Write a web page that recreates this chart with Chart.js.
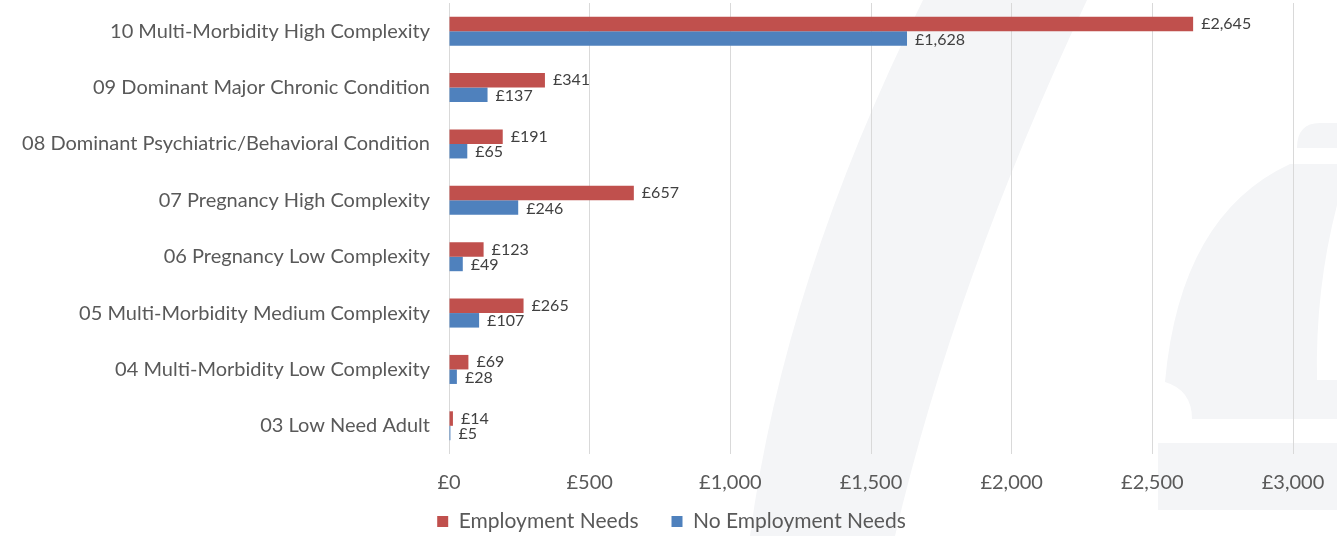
<!DOCTYPE html>
<html>
<head>
<meta charset="utf-8">
<script src="https://cdn.jsdelivr.net/npm/chart.js@4/dist/chart.umd.min.js"></script>
<style>
  html, body { margin: 0; padding: 0; background: #ffffff; }
  #wrap { position: relative; width: 1337px; height: 536px; }
</style>
</head>
<body>
<div id="wrap"><canvas id="c" width="1337" height="536"></canvas></div>
<script>
// Cost per patient by segment, split by employment need
const segments = [
  '10 Multi-Morbidity High Complexity',
  '09 Dominant Major Chronic Condition',
  '08 Dominant Psychiatric/Behavioral Condition',
  '07 Pregnancy High Complexity',
  '06 Pregnancy Low Complexity',
  '05 Multi-Morbidity Medium Complexity',
  '04 Multi-Morbidity Low Complexity',
  '03 Low Need Adult'
];
const employmentNeeds   = [2645, 341, 191, 657, 123, 265, 69, 14];
const noEmploymentNeeds = [1628, 137, 65, 246, 49, 107, 28, 5];
const seriesNames = ['Employment Needs', 'No Employment Needs'];
const axisTicks = [0, 500, 1000, 1500, 2000, 2500, 3000];

const FONT = "'Lato', 'Open Sans', sans-serif";
const TEXT = '#595959';

const gbp = v => '£' + Number(v).toLocaleString('en-GB');

// Faint logo watermark behind the plot
const watermark = {
  id: 'watermark',
  beforeDraw(chart) {
    const ctx = chart.ctx;
    ctx.save();
    ctx.fillStyle = '#f4f5f7';
    // sweeping diagonal band
    ctx.beginPath();
    ctx.moveTo(923, 0);
    ctx.quadraticCurveTo(784, 280, 750, 536);
    ctx.lineTo(895, 536);
    ctx.quadraticCurveTo(955, 280, 1087, 0);
    ctx.closePath();
    ctx.fill();
    // bell body
    ctx.beginPath();
    ctx.moveTo(1165, 382);
    ctx.quadraticCurveTo(1180, 215, 1290, 164);
    ctx.lineTo(1337, 164);
    ctx.lineTo(1337, 205);
    ctx.quadraticCurveTo(1315, 290, 1317, 380);
    ctx.lineTo(1337, 380);
    ctx.lineTo(1337, 419);
    ctx.lineTo(1192, 419);
    ctx.quadraticCurveTo(1192, 390, 1165, 382);
    ctx.closePath();
    ctx.fill();
    // bell cap
    ctx.beginPath();
    ctx.moveTo(1297, 148);
    ctx.quadraticCurveTo(1297, 123, 1320, 123);
    ctx.lineTo(1337, 123);
    ctx.lineTo(1337, 148);
    ctx.closePath();
    ctx.fill();
    // base block
    ctx.fillRect(1158, 443, 179, 67);
    ctx.restore();
  }
};

// Centres the legend row under the whole canvas and lets its box run to the bottom edge
const legendPlacement = {
  id: 'legendPlacement',
  afterLayout(chart) {
    const lg = chart.legend;
    if (!lg) return;
    const dx = chart.width / 2 + 3 - (lg.left + lg.right) / 2;
    lg.left += dx; lg.right += dx;
    lg.top = 478;
    lg.bottom = chart.height;
    lg.height = lg.bottom - lg.top;
  }
};

// Writes each bar's value just past its end
const valueLabels = {
  id: 'valueLabels',
  afterDatasetsDraw(chart) {
    const ctx = chart.ctx;
    ctx.save();
    ctx.font = '16px ' + FONT;
    ctx.fillStyle = '#404040';
    ctx.textAlign = 'left';
    ctx.textBaseline = 'middle';
    chart.data.datasets.forEach((ds, i) => {
      chart.getDatasetMeta(i).data.forEach((bar, j) => {
        ctx.fillText(gbp(ds.data[j]), bar.x + 8, bar.y + (i === 0 ? 0 : 1));
      });
    });
    ctx.restore();
  }
};

new Chart(document.getElementById('c'), {
  type: 'bar',
  data: {
    labels: segments,
    datasets: [
      { label: seriesNames[0], data: employmentNeeds,   backgroundColor: '#C0504D', borderWidth: 0 },
      { label: seriesNames[1], data: noEmploymentNeeds, backgroundColor: '#4F81BD', borderWidth: 0 }
    ]
  },
  options: {
    indexAxis: 'y',
    responsive: false,
    animation: false,
    layout: { padding: { top: 3, right: 44, left: 0, bottom: 0 } },
    datasets: { bar: { categoryPercentage: 0.515, barPercentage: 1.0 } },
    scales: {
      x: {
        min: 0, max: 3000,
        afterBuildTicks(scale) { scale.ticks = axisTicks.map(v => ({ value: v })); },
        grid: { color: '#d9d9d9', lineWidth: 1, drawTicks: false },
        border: { display: false },
        ticks: { padding: 17, color: TEXT, font: { family: FONT, size: 20 }, callback: v => gbp(v) },
        afterFit(scale) {
          scale.height = 45;
          scale.paddingLeft = 0; scale.paddingRight = 0;
          scale.paddingTop = 0; scale.paddingBottom = 0;
        }
      },
      y: {
        grid: { display: false, drawTicks: false },
        border: { display: false },
        ticks: { padding: 19, color: TEXT, font: { family: FONT, size: 20 } },
        afterFit(scale) {
          scale.width = 449;
          scale.paddingTop = 0; scale.paddingBottom = 0;
          scale.paddingLeft = 0; scale.paddingRight = 0;
        }
      }
    },
    plugins: {
      legend: {
        position: 'bottom',
        maxHeight: 37,
        labels: {
          boxWidth: 11, boxHeight: 11, padding: 33,
          color: TEXT, font: { family: FONT, size: 21 }
        }
      },
      tooltip: { enabled: false }
    }
  },
  plugins: [watermark, legendPlacement, valueLabels]
});
</script>
</body>
</html>
